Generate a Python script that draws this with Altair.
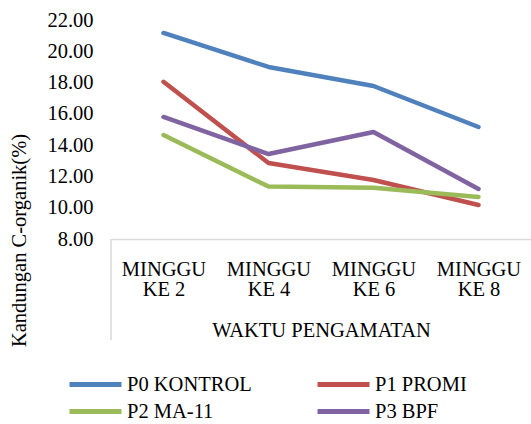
import altair as alt
import pandas as pd

weeks = ["MINGGU KE 2", "MINGGU KE 4", "MINGGU KE 6", "MINGGU KE 8"]
series_names = ["P0 KONTROL", "P1 PROMI", "P2 MA-11", "P3 BPF"]
p0 = [21.17, 19.00, 17.78, 15.16]
p1 = [18.05, 12.86, 11.77, 10.17]
p2 = [14.65, 11.35, 11.28, 10.69]
p3 = [15.80, 13.43, 14.84, 11.20]
colors = ["#4F81BD", "#C0504D", "#9BBB59", "#8064A2"]

rows = []
for name, vals in zip(series_names, [p0, p1, p2, p3]):
    for w, v in zip(weeks, vals):
        rows.append({"week": w, "series": name, "value": v})
df = pd.DataFrame(rows)

FONT = "Liberation Serif"
FS = 20.5
W, H = 420, 219

lines = alt.Chart(df).mark_line(strokeWidth=4.5, strokeCap="round", strokeJoin="round").encode(
    x=alt.X("week:N", sort=weeks,
            scale=alt.Scale(type="point", padding=0.5),
            axis=alt.Axis(title="WAKTU PENGAMATAN", labelAngle=0, ticks=False,
                          domainColor="#D9D9D9", domainWidth=1.5,
                          labelExpr="[slice(datum.label, 0, 6), slice(datum.label, 7)]",
                          labelLineHeight=20, labelPadding=20, titlePadding=21,
                          labelFont=FONT, titleFont=FONT,
                          labelFontSize=FS, titleFontSize=FS, labelColor="#000", titleColor="#000",
                          titleFontWeight="normal")),
    y=alt.Y("value:Q", scale=alt.Scale(domain=[8, 22], nice=False, zero=False),
            axis=alt.Axis(title="Kandungan C-organik(%)", values=[8, 10, 12, 14, 16, 18, 20, 22],
                          format=".2f", grid=False, domain=False, ticks=False,
                          labelFont=FONT, titleFont=FONT,
                          labelPadding=18, labelFontSize=FS, titleFontSize=FS,
                          labelColor="#000", titleColor="#000", titleFontWeight="normal",
                          titleY=220, titleX=-82)),
    color=alt.Color("series:N", sort=series_names,
                    scale=alt.Scale(domain=series_names, range=colors),
                    legend=alt.Legend(title=None, orient="none", legendX=-31, legendY=349,
                                      columns=2, direction="horizontal",
                                      symbolType="M-2,0L2,0", symbolSize=676, symbolStrokeWidth=5,
                                      labelFontSize=FS, labelFont=FONT, labelColor="#000",
                                      labelOffset=16, columnPadding=55, rowPadding=1,
                                      padding=0, labelLimit=300)),
)

edge = alt.Chart(pd.DataFrame({"a": [0]})).mark_rule(color="#D9D9D9", strokeWidth=1.5).encode(
    x=alt.value(0), y=alt.value(H), y2=alt.value(H + 101)
)

chart = alt.layer(edge, lines).properties(
    width=W, height=H,
    background="white",
    autosize=alt.AutoSizeParams(type="none"),
    padding={"left": 111, "top": 20, "right": 0, "bottom": 185},
).configure_view(stroke=None)

chart.save("out.html", embed_options={"renderer": "svg", "actions": False})
